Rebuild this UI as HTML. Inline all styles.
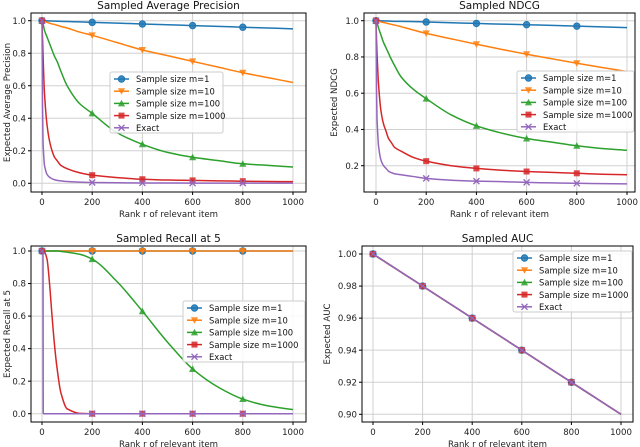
<!DOCTYPE html>
<html><head><meta charset="utf-8">
<style>
html,body{margin:0;padding:0;background:#fff;}
svg{display:block;font-family:"DejaVu Sans","Liberation Sans",sans-serif;}
</style></head>
<body>
<svg id="fig" width="640" height="447" viewBox="0 0 640 447"></svg>
<script>
const ranks = [0,2,4,5,10,20,30,40,50,60,75,100,150,200,300,400,500,600,700,800,900,1000];
const seriesNames = ["Sample size m=1","Sample size m=10","Sample size m=100","Sample size m=1000","Exact"];
const markerRanks = [0,200,400,600,800];

const apM1 = [1,1,1,1,.9995,.999,.9985,.998,.9975,.997,.996,.995,.9925,.99,.985,.98,.975,.97,.965,.96,.955,.95];
const apM10 = [1,1,.998,.998,.995,.99,.985,.98,.977,.972,.965,.955,.93,.91,.865,.82,.785,.75,.715,.68,.65,.62];
const apM100 = [1,.99,.98,.975,.94,.9,.86,.82,.78,.75,.69,.6,.49,.43,.31,.24,.19,.16,.14,.12,.11,.10];
const apM1000 = [1,.9,.8,.75,.55,.36,.26,.2,.16,.14,.11,.09,.065,.05,.035,.025,.02,.018,.015,.013,.011,.01];
const apExact = [1,.5,.27,.22,.11,.055,.037,.028,.022,.018,.015,.011,.007,.005,.003,.002,.002,.001,.001,.001,.001,.001];

const ndM1 = [1,1,1,1,.9997,.999,.999,.998,.998,.997,.996,.9965,.995,.993,.989,.985,.981,.978,.974,.97,.966,.962];
const ndM10 = [1,1,.999,.998,.996,.993,.99,.987,.984,.98,.976,.967,.948,.93,.9,.87,.842,.815,.79,.765,.742,.72];
const ndM100 = [1,.995,.99,.985,.96,.92,.88,.85,.82,.79,.75,.69,.62,.57,.48,.42,.38,.35,.33,.31,.295,.285];
const ndM1000 = [1,.9,.82,.79,.65,.5,.43,.39,.35,.33,.3,.28,.245,.225,.2,.185,.175,.168,.163,.158,.153,.15];
const ndExact = [1,.63,.46,.43,.31,.23,.2,.185,.17,.162,.155,.15,.14,.13,.12,.115,.112,.108,.105,.103,.101,.1];

const rcM1 = [1,1,1,1,1,1,1,1,1,1,1,1,1,1,1,1,1,1,1,1,1,1];
const rcM10 = [1,1,1,1,1,1,1,1,1,1,1,1,1,1,1,1,1,1,1,1,1,1];
const rcM100 = [1,1,1,1,1,1,1,1,1,1,.998,.993,.98,.95,.81,.63,.44,.275,.165,.09,.048,.025];
const rcM1000 = [1,1,1,1,.995,.95,.8,.6,.42,.28,.13,.03,.002,0,0,0,0,0,0,0,0,0];
const rcExact = [1,1,1,0,0,0,0,0,0,0,0,0,0,0,0,0,0,0,0,0,0,0];

const aucM1 = [1,.9998,.9996,.9995,.999,.998,.997,.996,.995,.994,.9925,.99,.985,.98,.97,.96,.95,.94,.93,.92,.91,.90];
const aucM10 = aucM1.slice();
const aucM100 = aucM1.slice();
const aucM1000 = aucM1.slice();
const aucExact = aucM1.slice();

const xTicks = [0,200,400,600,800,1000];
const apYTicks = [0,0.2,0.4,0.6,0.8,1.0];
const ndYTicks = [0.2,0.4,0.6,0.8,1.0];
const rcYTicks = [0,0.2,0.4,0.6,0.8,1.0];
const aucYTicks = [0.90,0.92,0.94,0.96,0.98,1.00];

const colors = ["#1f77b4","#ff7f0e","#2ca02c","#d62728","#9467bd"];
const markers = ["o","v","^","s","x"];
const NS = "http://www.w3.org/2000/svg";
const svg = document.getElementById("fig");

function el(tag, attrs, parent){
  const e = document.createElementNS(NS, tag);
  for (const k in attrs) e.setAttribute(k, attrs[k]);
  (parent||svg).appendChild(e);
  return e;
}

// monotone cubic (Fritsch-Carlson) path through pixel points
function monoPath(P){
  const n = P.length;
  if (n < 2) return "";
  const d = [], m = [];
  for (let i=0;i<n-1;i++){
    const dx = P[i+1][0]-P[i][0];
    d.push(dx===0?0:(P[i+1][1]-P[i][1])/dx);
  }
  m[0]=d[0]; m[n-1]=d[n-2];
  for (let i=1;i<n-1;i++){
    if (d[i-1]*d[i] <= 0) m[i]=0;
    else m[i] = 3*(d[i-1]+d[i]) / ((2*d[i]+d[i-1])/d[i-1] + (d[i]+2*d[i-1])/d[i]) ;
  }
  for (let i=1;i<n-1;i++){
    if (d[i-1]*d[i] > 0){
      const w1 = 2*d[i]+d[i-1], w2 = d[i]+2*d[i-1];
      m[i] = (w1+w2)/(w1/d[i-1]+w2/d[i]);
    }
  }
  let s = "M"+P[0][0].toFixed(2)+","+P[0][1].toFixed(2);
  for (let i=0;i<n-1;i++){
    const h = P[i+1][0]-P[i][0];
    const c1x = P[i][0]+h/3, c1y = P[i][1]+m[i]*h/3;
    const c2x = P[i+1][0]-h/3, c2y = P[i+1][1]-m[i+1]*h/3;
    s += " C"+c1x.toFixed(2)+","+c1y.toFixed(2)+" "+c2x.toFixed(2)+","+c2y.toFixed(2)+" "+P[i+1][0].toFixed(2)+","+P[i+1][1].toFixed(2);
  }
  return s;
}

function marker(g, type, x, y, c){
  let m;
  if (type==="o") m = el("circle",{cx:x,cy:y,r:3.2,fill:c,stroke:c,"fill-opacity":0.85},g);
  else if (type==="v") m = el("polygon",{points:`${x-3.6},${y-3} ${x+3.6},${y-3} ${x},${y+3.6}`,fill:c,"fill-opacity":0.85},g);
  else if (type==="^") m = el("polygon",{points:`${x-3.6},${y+3} ${x+3.6},${y+3} ${x},${y-3.6}`,fill:c,"fill-opacity":0.85},g);
  else if (type==="s") m = el("rect",{x:x-3,y:y-3,width:6,height:6,fill:c,"fill-opacity":0.85},g);
  else { m = el("path",{d:`M${x-3},${y-3}L${x+3},${y+3}M${x-3},${y+3}L${x+3},${y-3}`,stroke:c,"stroke-width":1.3,fill:"none"},g); }
  return m;
}

function panel(cfg){
  const g = el("g",{});
  
  
  const sx = v => cfg.x0 + (v - 0) / 1000 * (cfg.x1 - cfg.x0);
  const sy = v => cfg.yA + (v - cfg.vA) / (cfg.vB - cfg.vA) * (cfg.yB - cfg.yA);
  xTicks.forEach(t=>{
    const gl = el("line",{x1:sx(t),x2:sx(t),y1:cfg.top,y2:cfg.bottom,stroke:"#d0d0d0","stroke-width":1},g);
    
    
  });
  cfg.yTicks.forEach(t=>{
    const gl = el("line",{x1:cfg.left,x2:cfg.right,y1:sy(t),y2:sy(t),stroke:"#d0d0d0","stroke-width":1},g);
    
    
  });
  cfg.series.forEach((vals,i)=>{
    const sg = el("g",{},g);
    
    
    const P = ranks.map((r,j)=>[sx(r), sy(vals[j])]);
    const pl = el("path",{d:monoPath(P),fill:"none",stroke:colors[i],"stroke-width":1.5,"stroke-linejoin":"round"},sg);
    
    
    markerRanks.forEach(r=>{
      const j = ranks.indexOf(r);
      const m = marker(sg, markers[i], sx(r), sy(vals[j]), colors[i]);
      
      
    });
  });
  const fr = el("rect",{x:cfg.left,y:cfg.top,width:cfg.right-cfg.left,height:cfg.bottom-cfg.top,fill:"none",stroke:"#000","stroke-width":1},g);
  
  
  xTicks.forEach(t=>{
    el("line",{x1:sx(t),x2:sx(t),y1:cfg.bottom,y2:cfg.bottom+3,stroke:"#000"},g);
    const tx = el("text",{x:sx(t),y:cfg.bottom+13,"font-size":8.6,"text-anchor":"middle",fill:"#222"},g);
    tx.textContent = t;
    
    
  });
  cfg.yTicks.forEach(t=>{
    el("line",{x1:cfg.left-3,x2:cfg.left,y1:sy(t),y2:sy(t),stroke:"#000"},g);
    const tx = el("text",{x:cfg.left-5,y:sy(t)+3.1,"font-size":8.6,"text-anchor":"end",fill:"#222"},g);
    tx.textContent = t.toFixed(cfg.dec);
    
    
  });
  const ti = el("text",{x:(cfg.left+cfg.right)/2,y:cfg.top-4,"font-size":10.5,"text-anchor":"middle",fill:"#111"},g);
  ti.textContent = cfg.title;
  
  
  const xl = el("text",{x:(cfg.left+cfg.right)/2,y:cfg.bottom+25,"font-size":8.6,"text-anchor":"middle",fill:"#222"},g);
  xl.textContent = "Rank r of relevant item";
  
  
  const yc = (cfg.top+cfg.bottom)/2;
  const yl = el("text",{x:cfg.ylx,y:yc,"font-size":8.6,"text-anchor":"middle",fill:"#222",transform:`rotate(-90 ${cfg.ylx} ${yc})`},g);
  yl.textContent = cfg.ylabel;
  
  
  const lg = el("g",{},g);
  
  
  el("rect",{x:cfg.lx,y:cfg.ly,width:cfg.lw,height:61,fill:"#fff","fill-opacity":0.85,stroke:"#ccc",rx:2},lg);
  seriesNames.forEach((n,i)=>{
    const yy = cfg.ly + 7 + i*12.2;
    const le = el("g",{},lg);
    
    
    el("line",{x1:cfg.lx+4,x2:cfg.lx+19,y1:yy,y2:yy,stroke:colors[i],"stroke-width":1.5},le);
    marker(le, markers[i], cfg.lx+11.5, yy, colors[i]);
    const t = el("text",{x:cfg.lx+26,y:yy+3.2,"font-size":8.4,fill:"#111"},le);
    t.textContent = n;
  });
}

panel({name:"average-precision-chart",title:"Sampled Average Precision",ylabel:"Expected Average Precision",
  left:31,right:306,top:13,bottom:192,x0:42,x1:293,vA:0,yA:183.3,vB:1,yB:20.7,yTicks:apYTicks,dec:1,ylx:10,
  lx:110,ly:72,lw:113,series:[apM1,apM10,apM100,apM1000,apExact]});
panel({name:"ndcg-chart",title:"Sampled NDCG",ylabel:"Expected NDCG",
  left:364,right:635,top:13,bottom:192,x0:376,x1:627,vA:0.2,yA:165.7,vB:1,yB:20.7,yTicks:ndYTicks,dec:1,ylx:337,
  lx:517,ly:71,lw:117,series:[ndM1,ndM10,ndM100,ndM1000,ndExact]});
panel({name:"recall-at-5-chart",title:"Sampled Recall at 5",ylabel:"Expected Recall at 5",
  left:31,right:306,top:246,bottom:422,x0:42,x1:293,vA:0,yA:413.7,vB:1,yB:251,yTicks:rcYTicks,dec:1,ylx:10,
  lx:183,ly:301,lw:122,series:[rcM1,rcM10,rcM100,rcM1000,rcExact]});
panel({name:"auc-chart",title:"Sampled AUC",ylabel:"Expected AUC",
  left:362,right:633,top:246,bottom:422,x0:373,x1:621,vA:0.9,yA:414.3,vB:1,yB:254,yTicks:aucYTicks,dec:2,ylx:330,
  lx:513,ly:251,lw:119,series:[aucM1,aucM10,aucM100,aucM1000,aucExact]});
</script>
</body></html>
